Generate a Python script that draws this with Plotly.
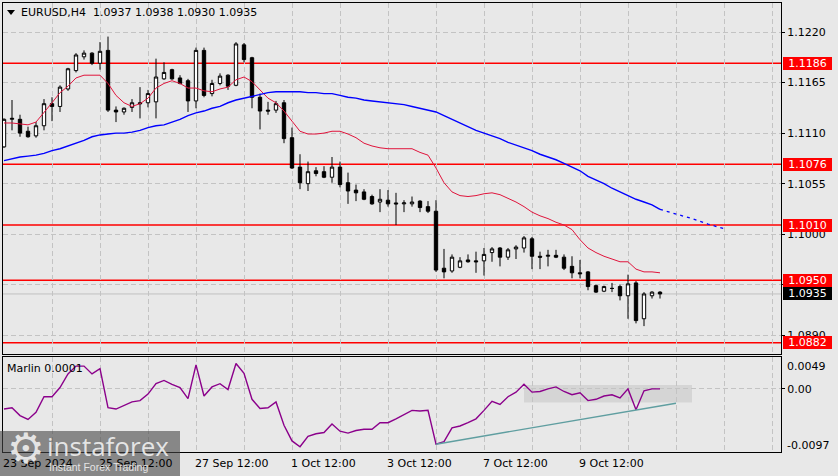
import plotly.graph_objects as go

# ---------------- data ----------------
open_ = [1.1095,1.1125,1.1125,1.1112,1.1107,1.1118,1.1142,1.1139,1.1158,1.1178,
         1.1193,1.1197,1.1186,1.1200,1.1135,1.1133,1.1138,1.1143,1.1143,1.1144,
         1.1169,1.1179,1.1170,1.1167,1.1145,1.1200,1.1153,1.1164,1.1173,1.1162,
         1.1206,1.1192,1.1149,1.1135,1.1135,1.1143,1.1105,1.1073,1.1055,1.1069,
         1.1068,1.1062,1.1073,1.1056,1.1048,1.1046,1.1041,1.1035,1.1037,1.1034,
         1.1033,1.1033,1.1036,1.1030,1.1025,1.0963,1.0960,1.0964,1.0972,1.0971,
         1.0971,1.0980,1.0985,1.0975,1.0984,1.0985,1.0995,1.0976,1.0976,1.0977,
         1.0975,1.0965,1.0958,1.0959,1.0944,1.0938,1.0941,1.0943,1.0933,1.0947,
         1.0908,1.0933,1.0937]
high = [1.1126,1.1146,1.1130,1.1117,1.1122,1.1147,1.1149,1.1162,1.1181,1.1197,
        1.1200,1.1198,1.1209,1.1215,1.1139,1.1138,1.1147,1.1160,1.1157,1.1191,
        1.1187,1.1180,1.1173,1.1169,1.1203,1.1203,1.1168,1.1175,1.1174,1.1209,
        1.1208,1.1193,1.1153,1.1144,1.1145,1.1146,1.1116,1.1087,1.1079,1.1073,
        1.1074,1.1084,1.1079,1.1067,1.1054,1.1049,1.1043,1.1049,1.1048,1.1045,
        1.1037,1.1041,1.1037,1.1036,1.1037,1.0984,1.0978,1.0975,1.0978,1.0981,
        1.0985,1.0986,1.0986,1.0985,1.0988,1.0998,1.0997,1.0981,1.0983,1.0983,
        1.0978,1.0976,1.0972,1.0960,1.0945,1.0944,1.0947,1.0945,1.0956,1.0949,
        1.0937,1.0938,1.0938]
low = [1.1094,1.1113,1.1106,1.1105,1.1105,1.1113,1.1123,1.1133,1.1156,1.1176,
       1.1190,1.1184,1.1179,1.1133,1.1122,1.1130,1.1133,1.1126,1.1138,1.1126,
       1.1168,1.1168,1.1163,1.1133,1.1137,1.1149,1.1150,1.1162,1.1157,1.1161,
       1.1187,1.1137,1.1114,1.1130,1.1132,1.1099,1.1071,1.1049,1.1047,1.1063,
       1.1061,1.1056,1.1051,1.1033,1.1036,1.1037,1.1032,1.1024,1.1030,1.1010,
       1.1024,1.1030,1.1024,1.1023,1.0959,1.0952,1.0958,1.0963,1.0969,1.0958,
       1.0955,1.0970,1.0965,1.0972,1.0973,1.0980,1.0962,1.0962,1.0965,1.0974,
       1.0961,1.0952,1.0952,1.0939,1.0936,1.0937,1.0937,1.0928,1.0908,1.0903,
       1.0900,1.0930,1.0930]
close = [1.1125,1.1126,1.1110,1.1106,1.1118,1.1142,1.1139,1.1160,1.1180,1.1195,
         1.1197,1.1186,1.1199,1.1135,1.1133,1.1137,1.1143,1.1142,1.1153,1.1171,
         1.1176,1.1169,1.1164,1.1145,1.1200,1.1151,1.1164,1.1172,1.1161,1.1207,
         1.1190,1.1149,1.1134,1.1134,1.1142,1.1104,1.1072,1.1056,1.1068,1.1066,
         1.1062,1.1073,1.1054,1.1047,1.1045,1.1038,1.1033,1.1038,1.1033,1.1033,
         1.1034,1.1035,1.1029,1.1025,1.0961,1.0959,1.0975,1.0971,1.0970,1.0970,
         1.0978,1.0984,1.0975,1.0983,1.0986,1.0996,1.0976,1.0975,1.0977,1.0975,
         1.0963,1.0958,1.0957,1.0943,1.0937,1.0943,1.0941,1.0933,1.0946,1.0906,
         1.0935,1.0937,1.0935]

ma_fast = [1.1121,1.1121,1.1120,1.1119,1.1122,1.1132,1.1143,1.1154,1.1161,1.1170,
           1.1173,1.1173,1.1173,1.1164,1.1151,1.1143,1.1139,1.1142,1.1148,1.1159,
           1.1164,1.1167,1.1164,1.1159,1.1159,1.1156,1.1155,1.1158,1.1160,1.1168,
           1.1171,1.1166,1.1157,1.1148,1.1143,1.1134,1.1123,1.1112,1.1109,1.1109,
           1.1110,1.1112,1.1112,1.1109,1.1105,1.1099,1.1096,1.1094,1.1093,1.1093,
           1.1093,1.1093,1.1089,1.1086,1.1072,1.1056,1.1046,1.1042,1.1041,1.1042,
           1.1044,1.1045,1.1043,1.1039,1.1035,1.1030,1.1024,1.1020,1.1017,1.1013,
           1.1010,1.1005,1.0994,1.0985,1.0980,1.0976,1.0973,1.0970,1.0970,1.0962,
           1.0959,1.0959,1.0958]
ma_slow = [1.1080,1.1082,1.1084,1.1085,1.1086,1.1088,1.1091,1.1093,1.1096,1.1099,
           1.1102,1.1106,1.1108,1.1109,1.1110,1.1110,1.1111,1.1113,1.1116,1.1118,
           1.1119,1.1122,1.1125,1.1129,1.1132,1.1134,1.1137,1.1139,1.1143,1.1146,
           1.1148,1.1150,1.1152,1.1154,1.1155,1.1155,1.1155,1.1155,1.1154,1.1154,
           1.1153,1.1153,1.1151,1.1149,1.1148,1.1146,1.1145,1.1144,1.1143,1.1142,
           1.1141,1.1139,1.1137,1.1135,1.1133,1.1129,1.1125,1.1121,1.1117,1.1113,
           1.1110,1.1107,1.1104,1.1100,1.1097,1.1094,1.1091,1.1087,1.1084,1.1081,
           1.1077,1.1073,1.1069,1.1063,1.1059,1.1055,1.1050,1.1046,1.1042,1.1038,
           1.1035,1.1032,1.1027]
ma_slow_proj_bars = [82, 84, 86, 88, 90]
ma_slow_proj = [1.1027, 1.1022, 1.1017, 1.1011, 1.1006]

marlin = [-0.0031,-0.0029,-0.0041,-0.0047,-0.0036,-0.0012,-0.0012,0.0002,0.0023,0.0035,
          0.0035,0.0023,0.0031,-0.0029,-0.0031,-0.0026,-0.0020,-0.0018,-0.0008,0.0008,
          0.0013,0.0007,0.0002,-0.0015,0.0037,-0.0011,0.0003,0.0008,-0.0001,0.0039,
          0.0024,-0.0016,-0.0030,-0.0029,-0.0020,-0.0056,-0.0080,-0.0089,-0.0073,-0.0069,
          -0.0067,-0.0054,-0.0065,-0.0068,-0.0064,-0.0062,-0.0062,-0.0052,-0.0052,-0.0046,
          -0.0039,-0.0033,-0.0034,-0.0033,-0.0085,-0.0081,-0.0060,-0.0057,-0.0052,-0.0046,
          -0.0033,-0.0019,-0.0024,-0.0012,-0.0005,0.0007,-0.0005,-0.0004,0.0000,0.0003,
          -0.0004,-0.0009,-0.0006,-0.0018,-0.0016,-0.0011,-0.0009,-0.0014,0.0000,-0.0032,
          -0.0003,0.0000,0.0000]

levels = [1.1186, 1.1076, 1.1010, 1.0950, 1.0882]
last_price = 1.0935
price_ticks = [1.1220, 1.1165, 1.1110, 1.1055, 1.1000, 1.0945, 1.0890]
time_tick_bars = [0, 12, 24, 36, 48, 60, 72]
time_tick_labels = ["23 Sep 2024", "25 Sep 12:00", "27 Sep 12:00", "1 Oct 12:00",
                    "3 Oct 12:00", "7 Oct 12:00", "9 Oct 12:00"]
marlin_range = [-0.0097, 0.0049]
marlin_labels = ["0.0049", "-0.0097"]
marlin_label_vals = [0.0049, -0.0097]
trend_bars = [54, 84]
trend_vals = [-0.0085, -0.0022]
zone_bars = [65, 86]
zone_vals = [-0.0021, 0.0006]

symbol = "EURUSD,H4"
indicator_name = "Marlin 0.0001"

# ---------------- layout helpers ----------------
W, H = 838, 476
def xp(px):
    return px / W
def yp(py):
    return 1 - py / H

bars = list(range(len(open_)))
BG = "#e8e8e8"
GRID = "#c3c3c3"
FONT = "DejaVu Sans"
x_range = [-0.125, 97.125]
y_range = [1.086966, 1.125155]

fig = go.Figure()

fig.add_trace(go.Candlestick(
    x=bars, open=open_, high=high, low=low, close=close,
    increasing=dict(line=dict(color="black", width=1), fillcolor="white"),
    decreasing=dict(line=dict(color="black", width=1), fillcolor="black"),
    whiskerwidth=0, showlegend=False, hoverinfo="skip",
    xaxis="x", yaxis="y"))

fig.add_trace(go.Scatter(x=bars, y=ma_fast, mode="lines",
                         line=dict(color="#e0143c", width=1),
                         showlegend=False, hoverinfo="skip", xaxis="x", yaxis="y"))
fig.add_trace(go.Scatter(x=bars, y=ma_slow, mode="lines",
                         line=dict(color="#0000ff", width=1.4),
                         showlegend=False, hoverinfo="skip", xaxis="x", yaxis="y"))
fig.add_trace(go.Scatter(x=ma_slow_proj_bars, y=ma_slow_proj, mode="lines",
                         line=dict(color="#0000ff", width=1.3, dash="3px,4px"),
                         showlegend=False, hoverinfo="skip", xaxis="x", yaxis="y"))

fig.add_trace(go.Scatter(x=bars, y=marlin, mode="lines",
                         line=dict(color="#8b008b", width=1.4),
                         showlegend=False, hoverinfo="skip", xaxis="x2", yaxis="y2"))
fig.add_trace(go.Scatter(x=trend_bars, y=trend_vals, mode="lines",
                         line=dict(color="#5f9ea0", width=1.4),
                         showlegend=False, hoverinfo="skip", xaxis="x2", yaxis="y2"))

shapes = []
# grey zone in indicator
shapes.append(dict(type="rect", xref="x2", yref="y2",
                   x0=zone_bars[0], x1=zone_bars[1], y0=zone_vals[0], y1=zone_vals[1],
                   fillcolor="#d5d5d5", line=dict(width=0), layer="below"))
# current price line
shapes.append(dict(type="line", xref="paper", yref="y", x0=xp(3), x1=xp(781),
                   y0=last_price, y1=last_price, layer="below",
                   line=dict(color="#c0c0c0", width=1)))
for lv in levels:
    shapes.append(dict(type="line", xref="paper", yref="y", x0=xp(3), x1=xp(781),
                       y0=lv, y1=lv, layer="below",
                       line=dict(color="#ff0000", width=1.5)))
# header triangle
shapes.append(dict(type="path", xref="paper", yref="paper",
                   path=f"M {xp(7)},{yp(10)} L {xp(15)},{yp(10)} L {xp(11)},{yp(15)} Z",
                   fillcolor="black", line=dict(width=0), layer="above"))
# watermark box
shapes.append(dict(type="rect", xref="paper", yref="paper",
                   x0=0, x1=xp(180), y0=0, y1=yp(431),
                   fillcolor="rgba(70,70,70,0.6)", line=dict(width=0), layer="above"))

annotations = []
header = f"{symbol}\u00a0\u00a0{open_[-1]:.4f} {high[-1]:.4f} {low[-1]:.4f} {close[-1]:.4f}"
annotations.append(dict(text=header, xref="paper", yref="paper", x=xp(19), y=yp(12.5),
                        xanchor="left", yanchor="middle", showarrow=False,
                        font=dict(family=FONT, size=11, color="black")))
annotations.append(dict(text=indicator_name, xref="paper", yref="paper", x=xp(5), y=yp(368),
                        xanchor="left", yanchor="middle", showarrow=False,
                        font=dict(family=FONT, size=11, color="black")))
# time labels
for b, t in zip(time_tick_bars, time_tick_labels):
    annotations.append(dict(text=t, xref="x2", yref="paper", x=b, y=yp(463),
                            xanchor="left", yanchor="middle", showarrow=False, xshift=-3,
                            font=dict(family=FONT, size=11, color="black")))
# indicator scale labels (top and bottom)
for v, t, sh in zip(marlin_label_vals, marlin_labels, [-9, 7]):
    annotations.append(dict(text=t, xref="paper", yref="y2", x=xp(785), y=v, yshift=sh,
                            xanchor="left", yanchor="middle", showarrow=False,
                            font=dict(family=FONT, size=11, color="black")))
# price level boxes
for lv in levels:
    annotations.append(dict(text=f"{lv:.4f}", xref="paper", yref="y", x=xp(807.5), y=lv,
                            xanchor="center", yanchor="middle", showarrow=False,
                            bgcolor="#ff0000", bordercolor="#ff0000", borderwidth=1,
                            borderpad=0, width=47, height=11,
                            font=dict(family=FONT, size=11, color="white")))
annotations.append(dict(text=f"{last_price:.4f}", xref="paper", yref="y", x=xp(807.5), y=last_price,
                        xanchor="center", yanchor="middle", showarrow=False,
                        bgcolor="#000000", bordercolor="#000000", borderwidth=1,
                        borderpad=0, width=47, height=11,
                        font=dict(family=FONT, size=11, color="white")))
# watermark text
annotations.append(dict(text="\u2699", xref="paper", yref="paper", x=xp(26), y=yp(448),
                        xanchor="center", yanchor="middle", showarrow=False,
                        font=dict(family=FONT, size=42, color="rgba(235,235,235,0.95)")))
annotations.append(dict(text="instaforex", xref="paper", yref="paper", x=xp(45), y=yp(446),
                        xanchor="left", yanchor="middle", showarrow=False,
                        font=dict(family="Open Sans", size=26, color="rgba(235,235,235,0.95)")))
annotations.append(dict(text="Instant Forex Trading", xref="paper", yref="paper", x=xp(47), y=yp(467),
                        xanchor="left", yanchor="middle", showarrow=False,
                        font=dict(family="Liberation Sans", size=10.5, color="rgba(235,235,235,0.95)")))

axis_common = dict(showline=True, mirror=True, linecolor="black", linewidth=1,
                   zeroline=False, showgrid=True, gridcolor=GRID, griddash="5px,3px",
                   gridwidth=1)

fig.update_layout(
    width=W, height=H,
    margin=dict(l=0, r=0, t=0, b=0),
    paper_bgcolor=BG, plot_bgcolor=BG,
    hovermode=False, showlegend=False,
    boxgap=0.4,
    shapes=shapes, annotations=annotations,
    xaxis=dict(domain=[xp(3), xp(781)], range=x_range, anchor="y",
               tick0=0, dtick=6, showticklabels=False, ticks="",
               rangeslider=dict(visible=False), **axis_common),
    xaxis2=dict(domain=[xp(3), xp(781)], range=x_range, anchor="y2", matches="x",
                tick0=0, dtick=6, showticklabels=False, ticks="", **axis_common),
    yaxis=dict(domain=[yp(354), yp(3)], range=y_range, side="right", anchor="x",
               tickvals=price_ticks, ticktext=[f"{v:.4f}" for v in price_ticks],
               ticks="outside", ticklen=3, tickcolor="black",
               tickfont=dict(family=FONT, size=11, color="black"), **axis_common),
    yaxis2=dict(domain=[yp(452), yp(357)], range=marlin_range, side="right", anchor="x2",
                tickvals=[0.0], ticktext=["0.00"],
                ticks="outside", ticklen=3, tickcolor="black",
                tickfont=dict(family=FONT, size=11, color="black"), **axis_common),
)

fig.write_html("out.html", config={"displayModeBar": False},
               post_script="document.body.style.margin='0';document.body.style.padding='0';")
